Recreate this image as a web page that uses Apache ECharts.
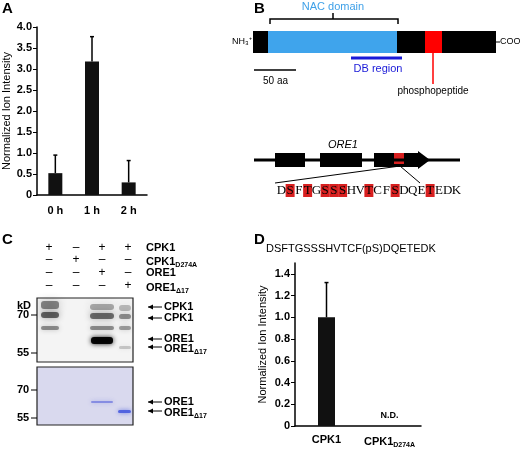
<!DOCTYPE html>
<html>
<head>
<meta charset="utf-8">
<script src="https://cdn.jsdelivr.net/npm/echarts@6/dist/echarts.min.js"></script>
<style>
  html, body { margin: 0; padding: 0; background: #fff; }
  #main { width: 520px; height: 449px; }
</style>
</head>
<body>
<div id="main"></div>
<script>
// panel A: ion intensity over time
var timeCats = ['0 h', '1 h', '2 h'];
var timeVals = [0.52, 3.18, 0.30];
var timeErrTop = [0.95, 3.77, 0.82];

// panel D: kinase vs dead kinase
var kinaseCats = ['CPK1', 'CPK1_D274A'];
var kinaseVals = [1.0, 0];
var kinaseErrTop = [1.32, null];

// phosphopeptide sequence, red marked residues
var peptideSeq = 'DSFTGSSSHVTCFSDQETEDK';
var peptideRed = [1, 3, 5, 6, 7, 10, 13, 17];

var FONT = 'Liberation Sans, Arial, sans-serif';
var SERIF = 'Liberation Serif, DejaVu Serif, serif';
var myChart = echarts.init(document.getElementById('main'));

function errRender(params, api) {
    var top = api.value(2);
    if (top == null || isNaN(top)) return;
    var p0 = api.coord([api.value(0), api.value(1)]);
    var p1 = api.coord([api.value(0), top]);
    var st = { stroke: '#000', lineWidth: 1.5 };
    return {
        type: 'group',
        children: [
            { type: 'line', shape: { x1: p0[0], y1: p0[1], x2: p1[0], y2: p1[1] }, style: st },
            { type: 'line', shape: { x1: p1[0] - 2, y1: p1[1], x2: p1[0] + 2, y2: p1[1] }, style: st }
        ]
    };
}

function errData(vals, tops) {
    var out = [];
    for (var i = 0; i < vals.length; i++) out.push([i, vals[i], tops[i]]);
    return out;
}

function subLabel(v) {
    var parts = v.split('_');
    if (parts.length == 1) return '{a|' + v + '}';
    return '{a|' + parts[0] + '}{s|' + parts[1] + '}';
}

var labelRich = {
    a: { fontFamily: FONT, fontSize: 11, fontWeight: 'bold', color: '#000' },
    s: { fontFamily: FONT, fontSize: 7, fontWeight: 'bold', color: '#000', padding: [8, 0, 0, 0] }
};

function axisCommon() {
    return {
        axisLine: { show: true, lineStyle: { color: '#000', width: 1.5 } },
        axisTick: { show: true, length: 4, lineStyle: { color: '#000' } },
        splitLine: { show: false },
        axisLabel: { color: '#000', fontFamily: FONT, fontSize: 11, fontWeight: 'bold', margin: 5 },
        nameTextStyle: { color: '#000', fontFamily: FONT, fontSize: 11 }
    };
}

var yA = axisCommon();
yA.gridIndex = 0; yA.type = 'value'; yA.min = 0; yA.max = 4; yA.interval = 0.5;
yA.axisLabel.formatter = function (v) { return v === 0 ? '0' : v.toFixed(1); };
yA.name = 'Normalized Ion Intensity'; yA.nameLocation = 'middle'; yA.nameGap = 24;

var yD = axisCommon();
yD.gridIndex = 1; yD.type = 'value'; yD.min = 0; yD.max = 1.5; yD.interval = 0.2;
yD.axisLabel.showMaxLabel = false;
yD.axisLabel.formatter = function (v) { return v === 0 ? '0' : v.toFixed(1); };
yD.name = 'Normalized Ion Intensity'; yD.nameLocation = 'middle'; yD.nameGap = 27;

var xA = axisCommon();
xA.gridIndex = 0; xA.type = 'category'; xA.data = timeCats; xA.axisTick = { show: false };
xA.axisLabel.margin = 10;

var xD = axisCommon();
xD.gridIndex = 1; xD.type = 'category'; xD.data = kinaseCats; xD.axisTick = { show: false };
xD.axisLabel.margin = 8; xD.axisLabel.interval = 0; xD.axisLabel.hideOverlap = false;
xD.axisLabel.formatter = subLabel; xD.axisLabel.rich = labelRich;

// western blot bands [x, y, w, h, color, blur]
var blotTop = [
    [41, 301, 18, 8, 'rgba(50,50,50,0.55)', 8], [41, 312, 18, 6, 'rgba(30,30,30,0.65)', 6],
    [41, 326, 18, 4, 'rgba(50,50,50,0.5)', 5],
    [90, 304, 24, 6, 'rgba(60,60,60,0.4)', 8], [90, 313, 24, 6, 'rgba(30,30,30,0.6)', 6],
    [90, 326, 24, 4, 'rgba(50,50,50,0.5)', 5], [91, 337, 22, 7, 'rgba(0,0,0,0.95)', 5],
    [119, 305, 12, 6, 'rgba(80,80,80,0.35)', 8], [119, 314, 12, 5, 'rgba(50,50,50,0.5)', 6],
    [119, 326, 12, 4, 'rgba(60,60,60,0.45)', 5], [119, 346, 12, 3, 'rgba(120,120,120,0.35)', 4]
];
var blotBottom = [
    [91, 401, 22, 2, 'rgba(90,100,220,0.6)', 4],
    [118, 410, 13, 3, 'rgba(60,80,220,0.8)', 4]
];

var g = [];
function txt(x, y, s, o) {
    var st = { text: s, fill: '#000', font: '11px ' + FONT };
    for (var k in (o || {})) st[k] = o[k];
    return { type: 'text', x: x, y: y, style: st, z: 10 };
}
function rect(x, y, w, h, fill, o) {
    var st = { fill: fill };
    for (var k in (o || {})) st[k] = o[k];
    return { type: 'rect', shape: { x: x, y: y, width: w, height: h }, style: st, z: 5 };
}
function line(x1, y1, x2, y2, col, w) {
    return { type: 'line', shape: { x1: x1, y1: y1, x2: x2, y2: y2 }, style: { stroke: col, lineWidth: w || 1 }, z: 6 };
}
function arrow(x, y) {
    return [line(x, y, x + 14, y, '#000', 1),
        { type: 'polygon', shape: { points: [[x, y], [x + 5, y - 2.5], [x + 5, y + 2.5]] }, style: { fill: '#000' }, z: 6 }];
}

// panel letters
g.push(txt(2, 1, 'A', { font: 'bold 15px ' + FONT }));
g.push(txt(254, 1, 'B', { font: 'bold 15px ' + FONT }));
g.push(txt(2, 232, 'C', { font: 'bold 15px ' + FONT }));
g.push(txt(254, 232, 'D', { font: 'bold 15px ' + FONT }));

// panel B protein diagram
g.push(txt(333, 1, 'NAC domain', { fill: '#3ea0e8', align: 'center', font: '11px ' + FONT }));
g.push({ type: 'polyline', shape: { points: [[270, 24], [270, 19], [333, 19], [333, 13], [333, 19], [398, 19], [398, 24]] }, style: { stroke: '#000', lineWidth: 1.5, fill: null }, z: 6 });
g.push(txt(232, 37, 'NH\u2083\u207A', { font: '9px ' + FONT }));
g.push(rect(253, 31, 243, 22, '#000'));
g.push(rect(268, 31, 129, 22, '#3fa4ec', { stroke: null }));
g.push(rect(425, 31, 17, 22, '#ff0000'));
g.push(line(496, 42, 500, 42, '#000', 1));
g.push(txt(500, 37, 'COO\u207B', { font: '9px ' + FONT }));
g.push(line(351, 58, 402, 58, '#1a1ad8', 3));
g.push(txt(378, 63, 'DB region', { fill: '#1a1ad8', align: 'center', font: '11px ' + FONT }));
g.push(line(254, 70, 296, 70, '#000', 1.5));
g.push(txt(263, 76, '50 aa', { font: '10px ' + FONT }));
g.push(line(433, 53, 433, 84, '#ff0000', 1.5));
g.push(txt(433, 86, 'phosphopeptide', { align: 'center', font: '10px ' + FONT }));

// ORE1 gene
g.push(txt(343, 139, 'ORE1', { align: 'center', font: 'italic 11px ' + FONT }));
g.push(line(254, 160, 460, 160, '#000', 3));
g.push(rect(275, 153, 30, 14, '#000'));
g.push(rect(320, 153, 42, 14, '#000'));
g.push(rect(374, 153, 44, 14, '#000'));
g.push({ type: 'polygon', shape: { points: [[418, 151], [430, 160], [418, 169]] }, style: { fill: '#000' }, z: 6 });
g.push(rect(394, 153, 10, 11, '#d82020'));
g.push({ type: 'polyline', shape: { points: [[275, 183], [400, 166], [420, 183]] }, style: { stroke: '#000', lineWidth: 1, fill: null }, z: 6 });
// sequence letters one by one
var seqX = 277, seqStep = 8.75;
for (var i = 0; i < peptideSeq.length; i++) {
    var cx = seqX + i * seqStep + seqStep / 2;
    if (peptideRed.indexOf(i) >= 0) g.push(rect(cx - 4.5, 184, 9, 13, '#d82020'));
    g.push(txt(cx, 191, peptideSeq[i], { align: 'center', verticalAlign: 'middle', font: '13px ' + SERIF }));
}

// panel C header
var signRows = [
    ['+', '\u2013', '+', '+'],
    ['\u2013', '+', '\u2013', '\u2013'],
    ['\u2013', '\u2013', '+', '\u2013'],
    ['\u2013', '\u2013', '\u2013', '+']
];
var lanesX = [49, 76, 102, 128];
var rowY = [242, 254, 267, 280];
for (var r = 0; r < 4; r++) {
    for (var l = 0; l < 4; l++) g.push(txt(lanesX[l], rowY[r], signRows[r][l], { align: 'center', font: '12px ' + FONT }));
}
g.push({ type: 'text', x: 146, y: rowY[0], z: 10, style: { text: subLabel('CPK1'), rich: labelRich } });
g.push({ type: 'text', x: 146, y: rowY[1], z: 10, style: { text: subLabel('CPK1_D274A'), rich: labelRich } });
g.push({ type: 'text', x: 146, y: rowY[2], z: 10, style: { text: subLabel('ORE1'), rich: labelRich } });
g.push({ type: 'text', x: 146, y: rowY[3], z: 10, style: { text: subLabel('ORE1_\u039417'), rich: labelRich } });

// blots
g.push(rect(37, 298, 96, 64, '#f4f4f4', { stroke: '#222', lineWidth: 1.2 }));
g.push(rect(37, 367, 96, 58, '#d9d9ee', { stroke: '#222', lineWidth: 1.2 }));
blotTop.concat(blotBottom).forEach(function (b) {
    g.push({ type: 'rect', shape: { x: b[0], y: b[1], width: b[2], height: b[3], r: 3 }, style: { fill: b[4], shadowBlur: b[5], shadowColor: b[4] }, z: 7 });
});
g.push(txt(17, 300, 'kD', { font: 'bold 11px ' + FONT }));
[[315, '70'], [353, '55'], [390, '70'], [418, '55']].forEach(function (m) {
    g.push(txt(17, m[0] - 6, m[1], { font: 'bold 11px ' + FONT }));
    g.push(line(31, m[0], 37, m[0], '#000', 1));
});
var arrowLabels = [[307, 'CPK1'], [318, 'CPK1'], [339, 'ORE1'], [347, 'ORE1_\u039417'], [402, 'ORE1'], [411, 'ORE1_\u039417']];
arrowLabels.forEach(function (a) {
    arrow(148, a[0]).forEach(function (e) { g.push(e); });
    g.push({ type: 'text', x: 164, y: a[0] - 6, z: 10, style: { text: subLabel(a[1]), rich: labelRich } });
});

// panel D title
g.push(txt(266, 243, 'DSFTGSSSHVTCF(pS)DQETEDK', { font: '11px ' + FONT }));

var option = {
    animation: false,
    textStyle: { fontFamily: FONT },
    grid: [
        { left: 37, top: 27, width: 110, height: 168 },
        { left: 295, top: 263, width: 126, height: 168 }
    ],
    xAxis: [xA, xD],
    yAxis: [yA, yD],
    series: [
        {
            type: 'bar', xAxisIndex: 0, yAxisIndex: 0, data: timeVals, barWidth: 14,
            itemStyle: { color: '#111' }
        },
        {
            type: 'custom', xAxisIndex: 0, yAxisIndex: 0, renderItem: errRender,
            data: errData(timeVals, timeErrTop), z: 3
        },
        {
            type: 'bar', xAxisIndex: 1, yAxisIndex: 1, barWidth: 17,
            itemStyle: { color: '#111' },
            data: kinaseVals.map(function (v, i) {
                if (i == 1) return { value: v, label: { show: true, formatter: 'N.D.', position: 'top', distance: 6, fontSize: 9, fontWeight: 'bold', color: '#000' } };
                return v;
            })
        },
        {
            type: 'custom', xAxisIndex: 1, yAxisIndex: 1, renderItem: errRender,
            data: errData(kinaseVals, kinaseErrTop), z: 3
        }
    ],
    graphic: g
};

myChart.setOption(option);
</script>
</body>
</html>
